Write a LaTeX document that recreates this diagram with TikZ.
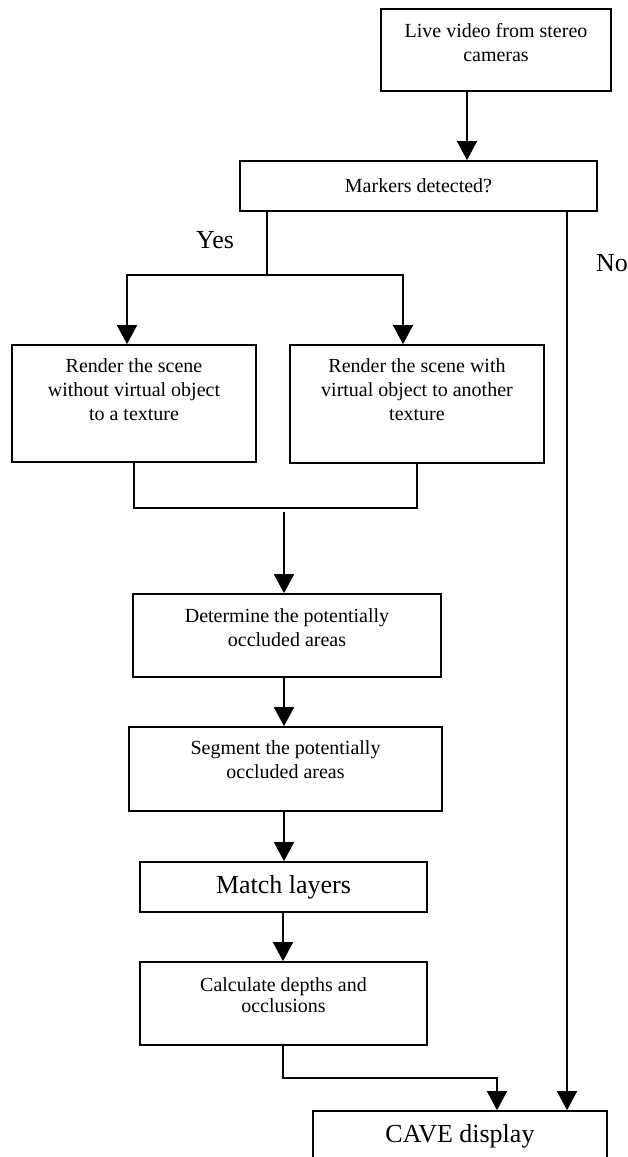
\documentclass[tikz,border=0pt]{standalone}
\usepackage{fontspec}
\setmainfont{Liberation Serif}
\usetikzlibrary{arrows.meta}
\begin{document}
\begin{tikzpicture}[x=1pt,y=-1pt,
  box/.style={draw, line width=1.7pt, inner sep=0pt, rectangle},
  small/.style={font=\fontsize{20}{24}\selectfont, align=center, inner sep=0pt},
  big/.style={font=\fontsize{26}{30}\selectfont, inner sep=0pt},
  wire/.style={line width=1.7pt},
  arr/.style={wire, -{Triangle[length=19pt,width=20pt]}}]
\useasboundingbox (0,0) rectangle (627,1157);
\clip (0,0) rectangle (627,1157);

% process boxes
\node[box, minimum width=230pt, minimum height=82pt] (b1) at (496,50) {};
\node[small, anchor=north] (t1) at ([yshift=-15pt]b1.north) {Live video from stereo\\cameras};

\node[box, minimum width=357pt, minimum height=50pt, small] (b2) at (418.5,186) {Markers detected?};

\node[box, minimum width=244pt, minimum height=117pt] (b3) at (134,403.5) {};
\node[small, anchor=north] (t3) at ([yshift=-14pt]b3.north) {Render the scene\\without virtual object\\to a texture};

\node[box, minimum width=254pt, minimum height=118pt] (b4) at (417,404) {};
\node[small, anchor=north] (t4) at ([yshift=-14pt]b4.north) {Render the scene with\\virtual object to another\\texture};

\node[box, minimum width=308pt, minimum height=83pt] (b5) at (287,635.5) {};
\node[small, anchor=north] (t5) at ([yshift=-15pt]b5.north) {Determine the potentially\\occluded areas};

\node[box, minimum width=313pt, minimum height=84pt] (b6) at (285.5,769) {};
\node[small, anchor=north] (t6) at ([yshift=-14pt]b6.north) {Segment the potentially\\occluded areas};

\node[box, minimum width=287pt, minimum height=50pt, big] (b7) at (283.5,887) {Match layers};

\node[box, minimum width=287pt, minimum height=83pt] (b8) at (283.5,1003.5) {};
\node[small, anchor=north, font=\fontsize{20}{21}\selectfont] (t8) at ([yshift=-16pt]b8.north) {Calculate depths and\\occlusions};

\node[box, minimum width=294pt, minimum height=64pt] (cave) at (460,1143) {};
\node[big, anchor=north] (tc) at ([yshift=-14pt]cave.north) {CAVE display};

% branch labels
\node[big] (yes) at (215,240) {Yes};
\node[big] (no) at (612,263) {No};

% routing points
\coordinate (c1) at (467,0);
\coordinate (ys) at (267,275);
\coordinate (xl) at (127,0);
\coordinate (xr) at (403,0);
\coordinate (jn) at (284,508);
\coordinate (xm) at (283,0);
\coordinate (t2) at (497,1078);
\coordinate (xn) at (567,0);

% connectors
\draw[arr] (b1.south -| c1) -- (b2.north -| c1);
\draw[wire] (b2.south -| ys) -- (ys);
\draw[arr] (ys) -| (b3.north -| xl);
\draw[arr] (ys) -| (b4.north -| xr);
\draw[wire] (b3.south) |- (jn) -| (b4.south);
\draw[arr] ([yshift=-4pt]jn) -- (b5.north -| jn);
\draw[arr] (b5.south -| jn) -- (b6.north -| jn);
\draw[arr] (b6.south -| jn) -- (b7.north -| jn);
\draw[arr] (b7.south -| xm) -- (b8.north -| xm);
\draw[arr] (b8.south -| xm) |- (t2) -- (cave.north -| t2);
\draw[arr] (b2.south -| xn) -- (cave.north -| xn);
\end{tikzpicture}
\end{document}
